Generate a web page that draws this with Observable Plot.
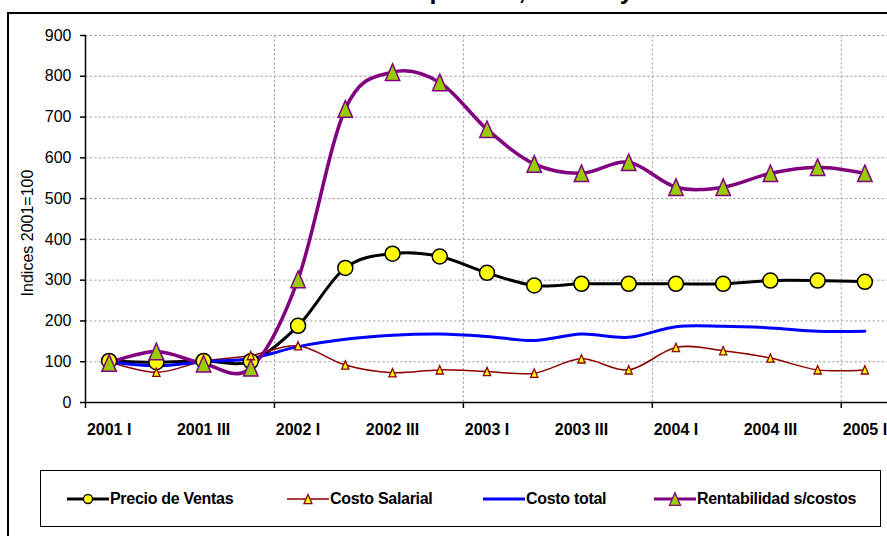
<!DOCTYPE html>
<html>
<head>
<meta charset="utf-8">
<script src="https://cdn.jsdelivr.net/npm/d3@7"></script>
<script src="https://cdn.jsdelivr.net/npm/@observablehq/plot@0.6"></script>
<style>
  body { margin: 0; background: #fff; font-family: "Liberation Sans", Arial, sans-serif; }
  #wrap { position: relative; width: 887px; height: 536px; overflow: hidden; background: #fff; }
  #frame { position: absolute; left: 7px; top: 12px; width: 1100px; height: 700px; border: 2px solid #000; box-sizing: border-box; }
  #title { position: absolute; left: 267px; top: -22px; font-size: 25px; font-weight: bold; line-height: 25px; white-space: nowrap; }
  #chart { position: absolute; left: 0; top: 0; }
  #ytitle { position: absolute; left: 28px; top: 233px; transform: translate(-50%, -50%) rotate(-90deg); font-size: 16px; white-space: nowrap; }
  #legend { position: absolute; left: 40px; top: 470px; width: 841px; height: 57px; border: 1.5px solid #000; box-sizing: border-box; }
  .item { position: absolute; top: 0; height: 100%; display: flex; align-items: center; font-size: 16px; font-weight: bold; white-space: nowrap; letter-spacing: -0.3px; }
  .item svg { display: block; margin-right: 1px; }
</style>
</head>
<body>
<div id="wrap">
  <div id="title">Evolución de precios, costos y rentabilidad</div>
  <div id="frame"></div>
  <div id="chart"></div>
  <div id="ytitle">Indices 2001=100</div>
  <div id="legend"></div>
</div>
<script>
// Quarterly indices, base 2001 = 100
const quarters = [
  "2001 I", "2001 II", "2001 III", "2001 IV",
  "2002 I", "2002 II", "2002 III", "2002 IV",
  "2003 I", "2003 II", "2003 III", "2003 IV",
  "2004 I", "2004 II", "2004 III", "2004 IV",
  "2005 I"
];
const precioVentas  = [102, 99, 102, 101, 188, 330, 365, 358, 318, 287, 291, 291, 291, 291, 299, 299, 296];
const costoSalarial = [100, 74, 101, 115, 139, 92, 73, 80, 76, 72, 107, 80, 135, 127, 109, 80, 80];
const costoTotal    = [100, 90, 100, 108, 137, 155, 165, 168, 162, 152, 168, 160, 186, 187, 183, 175, 175];
const rentabilidad  = [97, 125, 95, 85, 302, 720, 810, 785, 670, 585, 562, 589, 528, 528, 562, 577, 562];

const seriesNames = ["Precio de Ventas", "Costo Salarial", "Costo total", "Rentabilidad s/costos"];
const yTicks = [0, 100, 200, 300, 400, 500, 600, 700, 800, 900];
const labelledQuarters = [0, 2, 4, 6, 8, 10, 12, 14, 16];   // every other quarter is labelled
const yearBreaks = [-0.5, 3.5, 7.5, 11.5, 15.5];            // boundaries between years

const rows = values => values.map((v, i) => ({i, v, q: quarters[i]}));

// Triangle centred on its bounding box, a little taller than wide
const tallTriangle = {
  draw(context, size) {
    const r = Math.sqrt(size / Math.PI);
    const h = r * 1.15;
    context.moveTo(0, -h);
    context.lineTo(r, h);
    context.lineTo(-r, h);
    context.closePath();
  }
};

const smooth = {curve: "cardinal", tension: 0};
const grid = {stroke: "#a6a6a6", strokeWidth: 1, strokeDasharray: "2.5,2"};

const chart = Plot.plot({
  width: 887,
  height: 450,
  marginLeft: 85,
  marginRight: 0,
  marginTop: 35,
  marginBottom: 48,
  style: {fontFamily: "'Liberation Sans', Arial, sans-serif", background: "transparent", color: "#000"},
  x: {domain: [-0.5, 16.5], range: [85, 888]},
  y: {domain: [0, 900]},
  marks: [
    Plot.ruleY(yTicks.slice(1), grid),
    Plot.ruleX(yearBreaks.slice(1), grid),
    Plot.axisY({ticks: yTicks, tickSize: 5, tickPadding: 9, fontSize: 16, label: null, strokeWidth: 1.5}),
    Plot.axisX({ticks: yearBreaks, tickSize: 6, tickFormat: () => "", label: null, strokeWidth: 1.5}),
    Plot.axisX({ticks: labelledQuarters, tickSize: 0, tickPadding: 21, tickFormat: i => quarters[i],
                fontSize: 16, fontWeight: "bold", label: null}),
    Plot.ruleY([0], {stroke: "#000", strokeWidth: 1.5}),
    Plot.ruleX([-0.5], {stroke: "#000", strokeWidth: 1.5}),

    Plot.line(rows(precioVentas),  {x: "i", y: "v", stroke: "#000", strokeWidth: 3, ...smooth}),
    Plot.line(rows(costoSalarial), {x: "i", y: "v", stroke: "#8b0000", strokeWidth: 1.5, ...smooth}),
    Plot.line(rows(costoTotal),    {x: "i", y: "v", stroke: "#0000ff", strokeWidth: 3, ...smooth}),
    Plot.line(rows(rentabilidad),  {x: "i", y: "v", stroke: "#800080", strokeWidth: 3.5, ...smooth}),

    Plot.dot(rows(precioVentas),  {x: "i", y: "v", r: 7.5, fill: "#ffff00", stroke: "#000", strokeWidth: 1.5}),
    Plot.dot(rows(costoSalarial), {x: "i", y: "v", r: 3.6, symbol: tallTriangle, fill: "#ffff00", stroke: "#8b0000", strokeWidth: 1.3}),
    Plot.dot(rows(rentabilidad),  {x: "i", y: "v", r: 7.2, symbol: tallTriangle, fill: "#99cc00", stroke: "#800080", strokeWidth: 1.5})
  ]
});
document.getElementById("chart").append(chart);

// Legend: line swatch with the series marker, then the series name
const legendStyles = [
  {stroke: "#000", width: 3, marker: "circle", fill: "#ffff00", mstroke: "#000", size: 4.5},
  {stroke: "#8b0000", width: 1.5, marker: "tri", fill: "#ffff00", mstroke: "#8b0000", size: 4},
  {stroke: "#0000ff", width: 3, marker: null},
  {stroke: "#800080", width: 3, marker: "tri", fill: "#99cc00", mstroke: "#800080", size: 5.5}
];
const legendLeft = [26, 246, 442, 613];
const legend = d3.select("#legend");
seriesNames.forEach((name, k) => {
  const s = legendStyles[k];
  const item = legend.append("div").attr("class", "item").style("left", legendLeft[k] + "px");
  const svg = item.append("svg").attr("width", 42).attr("height", 20);
  svg.append("line").attr("x1", 0).attr("x2", 42).attr("y1", 10).attr("y2", 10)
    .attr("stroke", s.stroke).attr("stroke-width", s.width);
  if (s.marker === "circle") {
    svg.append("circle").attr("cx", 21).attr("cy", 10).attr("r", s.size)
      .attr("fill", s.fill).attr("stroke", s.mstroke).attr("stroke-width", 1.3);
  } else if (s.marker === "tri") {
    const r = s.size, h = r * 1.15;
    svg.append("path").attr("d", `M21,${10 - h}L${21 + r},${10 + h}L${21 - r},${10 + h}Z`)
      .attr("fill", s.fill).attr("stroke", s.mstroke).attr("stroke-width", 1.3);
  }
  item.append("span").text(name);
});
</script>
</body>
</html>
